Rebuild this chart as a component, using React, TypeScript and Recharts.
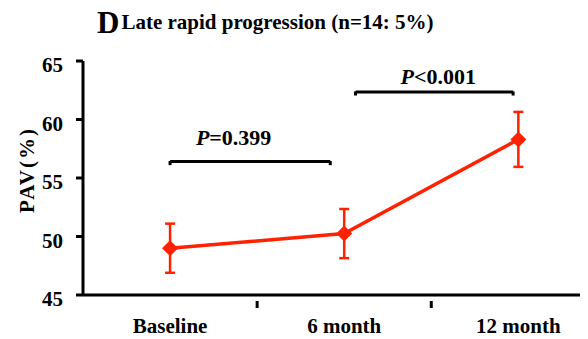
import React from 'react';
import {
  LineChart,
  Line,
  XAxis,
  YAxis,
  ErrorBar,
  ReferenceLine,
  ReferenceDot,
} from 'recharts';

const categories = ['Baseline', '6 month', '12 month'];
const pavMean = [49.0, 50.25, 58.3];
const pavSd = [2.1, 2.1, 2.35];
const yTicks = [45, 50, 55, 60, 65];

// significance brackets: [from, to] on the category scale, bar height, label
const bracketFrom = [0.5, 1.565];
const bracketTo = [1.42, 2.47];
const bracketY = [56.4, 62.35];
const bracketText = ['=0.399', '<0.001'];
const bracketLabelX = [0.865, 2.04];
const bracketLabelY = [57.8, 63.0];

const data = categories.map((name, i) => ({
  pos: i + 0.5,
  name,
  pav: pavMean[i],
  sd: pavSd[i],
}));

const RED = '#ff2200';
const FONT = '"Liberation Serif", "Times New Roman", serif';

const Diamond = (props: any) => {
  const { cx, cy } = props;
  if (cx == null || cy == null) return null;
  const r = 8;
  return (
    <polygon
      points={`${cx},${cy - r} ${cx + r},${cy} ${cx},${cy + r} ${cx - r},${cy}`}
      fill={RED}
    />
  );
};

const XTick = (props: any) => {
  const { x, y, payload } = props;
  const v = payload.value;
  if (Number.isInteger(v)) {
    return <line x1={x} y1={y - 2} x2={x} y2={y + 5} stroke="#000" strokeWidth={3} />;
  }
  const idx = Math.floor(v);
  return (
    <text x={x} y={y + 30} textAnchor="middle" fontFamily={FONT} fontWeight="bold" fontSize={21} fill="#000">
      {categories[idx]}
    </text>
  );
};

const PLabel = (text: string) => (props: any) => {
  const { viewBox } = props;
  return (
    <text x={viewBox.x} y={viewBox.y} textAnchor="middle" fontFamily={FONT} fontWeight="bold" fontSize={22} fill="#000">
      <tspan fontStyle="italic">P</tspan>
      {text}
    </text>
  );
};

export default function App() {
  return (
    <div style={{ position: 'relative', width: 580, height: 331 }}>
      <div
        style={{
          position: 'absolute',
          left: 89,
          top: -7,
          fontFamily: FONT,
          fontWeight: 'bold',
          whiteSpace: 'nowrap',
          color: '#000',
          zIndex: 1,
        }}
      >
        <span style={{ fontSize: 31, position: 'relative', top: 4 }}>D</span>
        <span style={{ fontSize: 21, marginLeft: 2 }}>Late rapid progression (n=14: 5%)</span>
      </div>
      <LineChart width={580} height={331} data={data} margin={{ top: 53, right: 0, bottom: 0, left: 0 }}>
        <XAxis
          dataKey="pos"
          type="number"
          domain={[0, 2.9]}
          allowDataOverflow
          ticks={[0.5, 1, 1.5, 2, 2.5]}
          interval={0}
          height={44}
          axisLine={{ stroke: '#000', strokeWidth: 3 }}
          tickLine={false}
          tick={<XTick />}
        />
        <YAxis
          width={75}
          domain={[45, 65]}
          ticks={yTicks}
          interval={0}
          axisLine={{ stroke: '#000', strokeWidth: 3 }}
          tickLine={{ stroke: '#000', strokeWidth: 3 }}
          tickSize={7}
          tickMargin={13}
          tick={{ fill: '#000', fontSize: 21, fontWeight: 'bold', fontFamily: FONT, dy: 4 }}
          label={{
            content: (p: any) => {
              const vb = p.viewBox;
              const cx = vb.x + 19;
              const cy = vb.y + vb.height / 2 - 8;
              return (
                <text
                  x={cx}
                  y={cy}
                  transform={`rotate(-90 ${cx} ${cy})`}
                  textAnchor="middle"
                  dominantBaseline="central"
                  fontFamily={FONT}
                  fontWeight="bold"
                  fontSize={21}
                  letterSpacing={2}
                  fill="#000"
                >
                  PAV(%)
                </text>
              );
            },
          }}
        />
        {bracketY.map((by, i) => (
          <ReferenceLine
            key={`h${i}`}
            segment={[
              { x: bracketFrom[i], y: by },
              { x: bracketTo[i], y: by },
            ]}
            stroke="#000"
            strokeWidth={3}
            ifOverflow="visible"
          />
        ))}
        {bracketY.map((by, i) => (
          <ReferenceLine
            key={`l${i}`}
            segment={[
              { x: bracketFrom[i], y: by + 0.05 },
              { x: bracketFrom[i], y: by - 0.3 },
            ]}
            stroke="#000"
            strokeWidth={3}
            ifOverflow="visible"
          />
        ))}
        {bracketY.map((by, i) => (
          <ReferenceLine
            key={`r${i}`}
            segment={[
              { x: bracketTo[i], y: by + 0.05 },
              { x: bracketTo[i], y: by - 0.3 },
            ]}
            stroke="#000"
            strokeWidth={3}
            ifOverflow="visible"
          />
        ))}
        {bracketText.map((t, i) => (
          <ReferenceDot
            key={`t${i}`}
            x={bracketLabelX[i]}
            y={bracketLabelY[i]}
            r={0}
            fill="none"
            stroke="none"
            ifOverflow="visible"
            label={{ content: PLabel(t) }}
          />
        ))}
        <Line
          dataKey="pav"
          stroke={RED}
          strokeWidth={3.5}
          dot={<Diamond />}
          activeDot={false}
          isAnimationActive={false}
        >
          <ErrorBar dataKey="sd" width={5} stroke={RED} strokeWidth={2.5} direction="y" />
        </Line>
      </LineChart>
    </div>
  );
}
